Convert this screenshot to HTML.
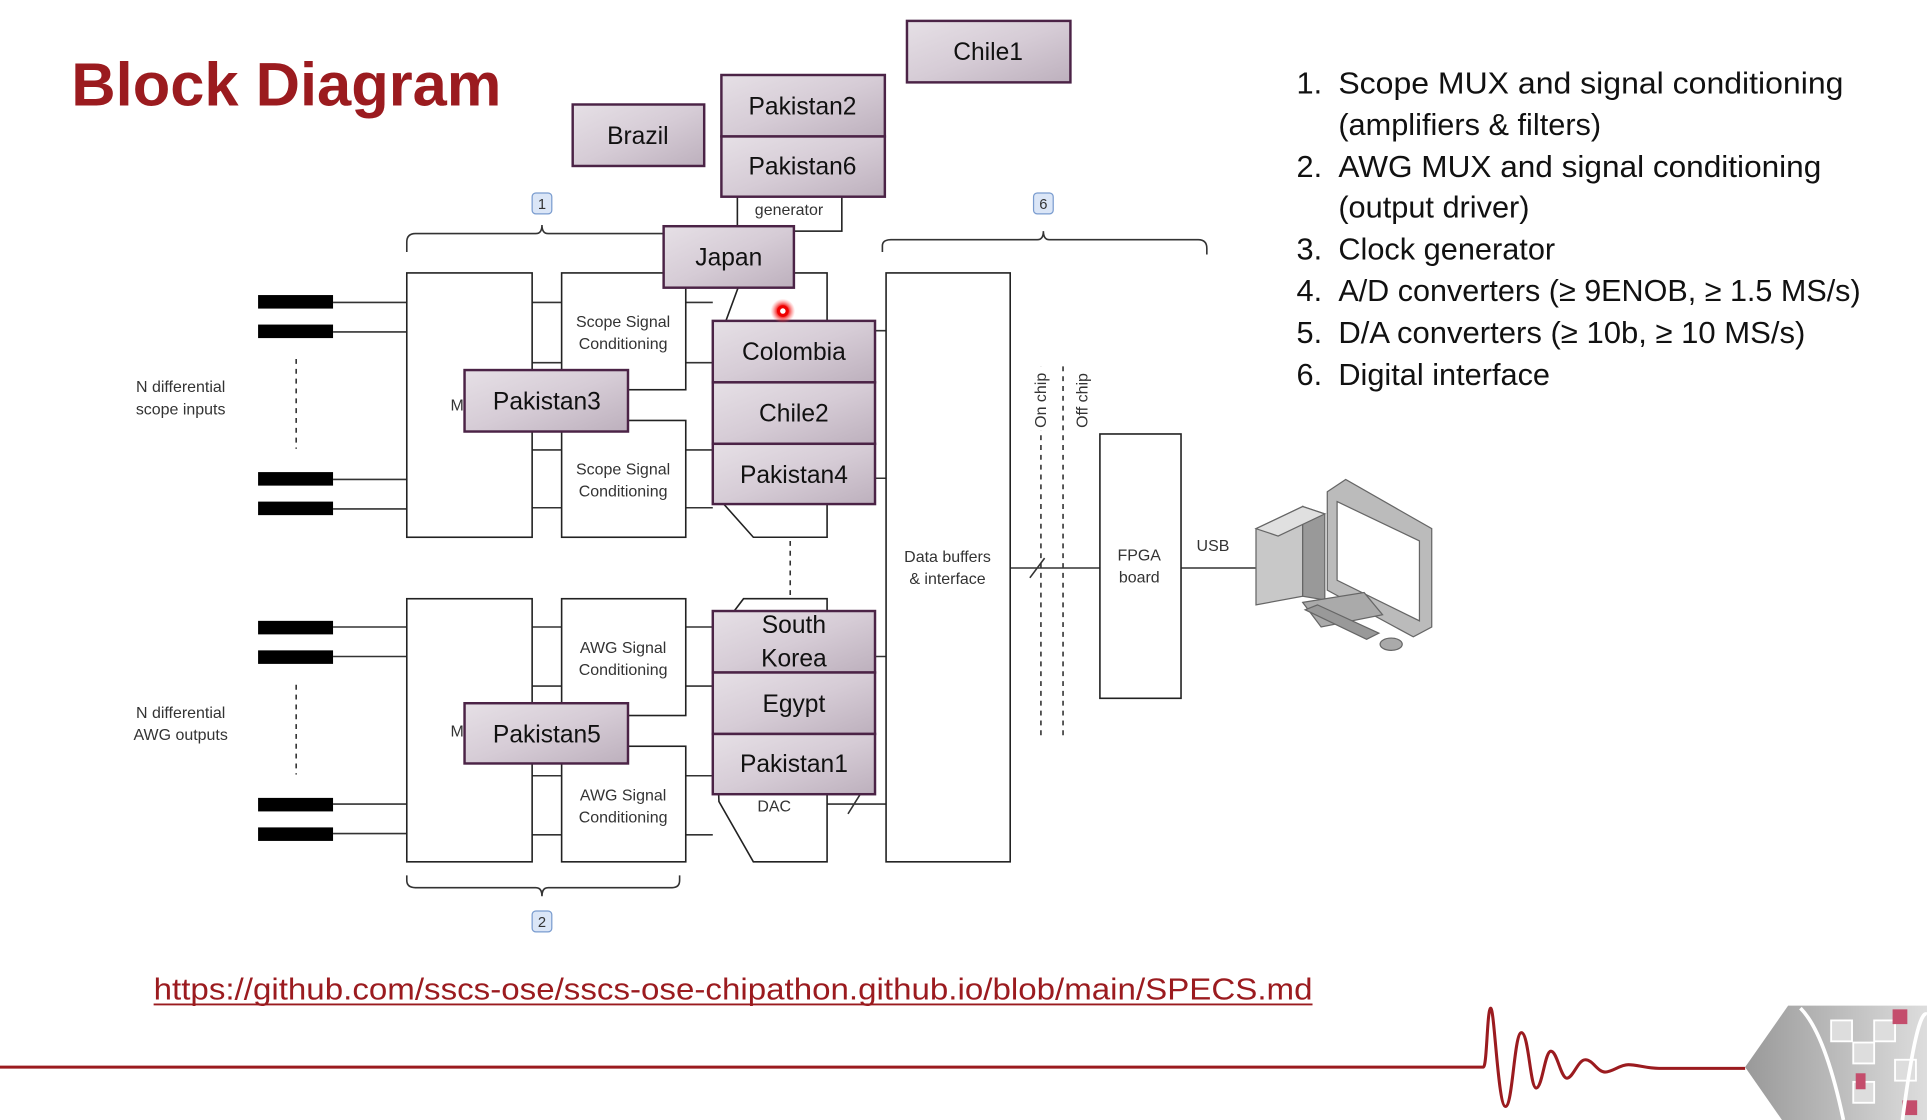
<!DOCTYPE html>
<html><head><meta charset="utf-8"><style>
html,body{margin:0;padding:0;background:#fff;}
svg{display:block;}
text{font-family:"Liberation Sans",sans-serif;}
.b{fill:#fff;stroke:#222;stroke-width:1.3;}
.l{stroke:#333;stroke-width:1.3;fill:none;}
.p{fill:url(#pg);stroke:#4b2346;stroke-width:2;}
.pt{font-size:20px;fill:#111;text-anchor:middle;}
.s{font-size:13px;fill:#333;text-anchor:middle;}
.li{font-size:25px;fill:#111;}
</style></head><body>
<svg width="1927" height="1120" viewBox="0 0 1568 911" preserveAspectRatio="none" xmlns="http://www.w3.org/2000/svg">
<defs>
<linearGradient id="pg" x1="0" y1="0" x2="1" y2="1"><stop offset="0" stop-color="#e6e0e6"/><stop offset="0.5" stop-color="#d6ccd6"/><stop offset="1" stop-color="#bdb0bd"/></linearGradient>
<linearGradient id="gg" x1="0" y1="0" x2="1" y2="0"><stop offset="0" stop-color="#999"/><stop offset="1" stop-color="#ddd"/></linearGradient>
<radialGradient id="rd"><stop offset="0.4" stop-color="#e00"/><stop offset="1" stop-color="#f66" stop-opacity="0"/></radialGradient>
</defs>
<text x="58" y="86" font-size="50" font-weight="bold" fill="#9b1b1f">Block Diagram</text>

<g fill="#000">
<rect x="210" y="240" width="61" height="11"/><rect x="210" y="264" width="61" height="11"/>
<rect x="210" y="384" width="61" height="11"/><rect x="210" y="408" width="61" height="11"/>
<rect x="210" y="505" width="61" height="11"/><rect x="210" y="529" width="61" height="11"/>
<rect x="210" y="649" width="61" height="11"/><rect x="210" y="673" width="61" height="11"/>
</g>
<g class="l">
<path d="M271 246H331M271 270H331M271 390H331M271 414H331M271 510H331M271 534H331M271 654H331M271 678H331"/>
<path d="M433 246H457M433 295H457M433 366H457M433 413H457M558 246H580M558 295H580M558 366H580M558 413H580"/>
<path d="M433 510H457M433 558H457M433 631H457M433 679H457M558 510H580M558 558H580M558 631H580M558 679H580"/>
<path d="M673 269H721M673 389H721M673 534H721M673 654H721M822 462H895M961 462H1022"/>
<path d="M838 470L850 454M690 662L700 646"/>
<path d="M241 292V365M241 557V630M643 440V492M847 298V600M865 298V600" stroke-dasharray="4,4"/>
<path d="M331 205V197Q331 190 338 190H436Q441 190 441 183Q441 190 446 190H540"/>
<path d="M718 205V200Q718 195 725 195H844Q849 195 849 188Q849 195 854 195H975Q982 195 982 202V207"/>
<path d="M331 712V716Q331 722 338 722H436Q441 722 441 729Q441 722 446 722H547Q553 722 553 716V712"/>
</g>
<rect x="433" y="157" width="16" height="17" rx="3" fill="#dbe6f7" stroke="#7a9ccf"/><text x="441" y="170" font-size="12" text-anchor="middle" fill="#333">1</text>
<rect x="841" y="157" width="16" height="17" rx="3" fill="#dbe6f7" stroke="#7a9ccf"/><text x="849" y="170" font-size="12" text-anchor="middle" fill="#333">6</text>
<rect x="433" y="741" width="16" height="17" rx="3" fill="#dbe6f7" stroke="#7a9ccf"/><text x="441" y="754" font-size="12" text-anchor="middle" fill="#333">2</text>

<text x="147" y="319" class="s">N differential</text><text x="147" y="337" class="s">scope inputs</text>
<text x="147" y="584" class="s">N differential</text><text x="147" y="602" class="s">AWG outputs</text>

<rect class="b" x="331" y="222" width="102" height="215"/>
<rect class="b" x="457" y="222" width="101" height="95"/>
<rect class="b" x="457" y="342" width="101" height="95"/>
<rect class="b" x="331" y="487" width="102" height="214"/>
<rect class="b" x="457" y="487" width="101" height="95"/>
<rect class="b" x="457" y="607" width="101" height="94"/>
<path class="b" d="M580 290L605 222H673V437H613L580 400Z"/>
<path class="b" d="M580 520L605 487H673V701H613L585 652Z"/>
<rect class="b" x="721" y="222" width="101" height="479"/>
<rect class="b" x="895" y="353" width="66" height="215"/>
<rect class="b" x="600" y="155" width="85" height="33"/>
<text x="642" y="175" class="s" font-size="14">generator</text>

<text x="507" y="266" class="s">Scope Signal</text><text x="507" y="284" class="s">Conditioning</text>
<text x="507" y="386" class="s">Scope Signal</text><text x="507" y="404" class="s">Conditioning</text>
<text x="507" y="531" class="s">AWG Signal</text><text x="507" y="549" class="s">Conditioning</text>
<text x="507" y="651" class="s">AWG Signal</text><text x="507" y="669" class="s">Conditioning</text>
<text x="630" y="660" class="s" font-size="14">DAC</text>
<text x="372" y="334" class="s">M</text><text x="372" y="599" class="s">M</text>
<text x="771" y="457" class="s">Data buffers</text><text x="771" y="475" class="s">&amp; interface</text>
<text x="927" y="456" class="s">FPGA</text><text x="927" y="474" class="s">board</text>
<text x="987" y="448" class="s" font-size="14">USB</text>
<rect x="838" y="298" width="16" height="52" fill="#fff"/>
<rect x="872" y="298" width="16" height="52" fill="#fff"/>
<text transform="translate(851,348) rotate(-90)" font-size="13" fill="#333">On chip</text>
<text transform="translate(885,348) rotate(-90)" font-size="13" fill="#333">Off chip</text>

<rect class="p" x="738" y="17" width="133" height="50"/><text class="pt" x="804" y="49">Chile1</text>
<rect class="p" x="587" y="61" width="133" height="50"/><text class="pt" x="653" y="93">Pakistan2</text>
<rect class="p" x="587" y="111" width="133" height="49"/><text class="pt" x="653" y="142">Pakistan6</text>
<rect class="p" x="466" y="85" width="107" height="50"/><text class="pt" x="519" y="117">Brazil</text>
<rect class="p" x="540" y="184" width="106" height="50"/><text class="pt" x="593" y="216">Japan</text>
<rect class="p" x="580" y="261" width="132" height="50"/><text class="pt" x="646" y="293">Colombia</text>
<rect class="p" x="580" y="311" width="132" height="50"/><text class="pt" x="646" y="343">Chile2</text>
<rect class="p" x="580" y="361" width="132" height="49"/><text class="pt" x="646" y="393">Pakistan4</text>
<rect class="p" x="378" y="301" width="133" height="50"/><text class="pt" x="445" y="333">Pakistan3</text>
<rect class="p" x="378" y="572" width="133" height="49"/><text class="pt" x="445" y="604">Pakistan5</text>
<rect class="p" x="580" y="497" width="132" height="50"/><text class="pt" x="646" y="515">South</text><text class="pt" x="646" y="542">Korea</text>
<rect class="p" x="580" y="547" width="132" height="50"/><text class="pt" x="646" y="579">Egypt</text>
<rect class="p" x="580" y="597" width="132" height="49"/><text class="pt" x="646" y="628">Pakistan1</text>
<circle cx="637" cy="253" r="10" fill="url(#rd)"/><circle cx="637" cy="253" r="3.5" fill="#fff" stroke="#e00" stroke-width="2.5"/>

<g stroke="#666" stroke-width="1">
<path d="M1022 430L1060 412V485L1022 492Z" fill="#c8c8c8"/>
<path d="M1060 412L1078 418V488L1060 485Z" fill="#999"/>
<path d="M1022 430L1060 412L1078 418L1040 436Z" fill="#e0e0e0"/>
<path d="M1080 400L1095 390L1165 430V510L1150 518L1080 480Z" fill="#bbb"/>
<path d="M1088 408L1155 440V505L1088 472Z" fill="#fff"/>
<path d="M1060 490L1110 482L1125 500L1075 510Z" fill="#aaa"/>
<path d="M1062 496L1112 520L1122 515L1072 492Z" fill="#999"/>
<ellipse cx="1132" cy="524" rx="9" ry="5" fill="#aaa"/>
</g>

<g class="li">
<text x="1055" y="76">1.</text><text x="1089" y="76" textLength="411" lengthAdjust="spacingAndGlyphs">Scope MUX and signal conditioning</text>
<text x="1089" y="110">(amplifiers &amp; filters)</text>
<text x="1055" y="144">2.</text><text x="1089" y="144" textLength="393" lengthAdjust="spacingAndGlyphs">AWG MUX and signal conditioning</text>
<text x="1089" y="177">(output driver)</text>
<text x="1055" y="211">3.</text><text x="1089" y="211">Clock generator</text>
<text x="1055" y="245">4.</text><text x="1089" y="245" textLength="425" lengthAdjust="spacingAndGlyphs">A/D converters (≥ 9ENOB, ≥ 1.5 MS/s)</text>
<text x="1055" y="279">5.</text><text x="1089" y="279" textLength="380" lengthAdjust="spacingAndGlyphs">D/A converters (≥ 10b, ≥ 10 MS/s)</text>
<text x="1055" y="313">6.</text><text x="1089" y="313">Digital interface</text>
</g>
<text x="125" y="813" font-size="25" fill="#9b1b1f" textLength="943" lengthAdjust="spacingAndGlyphs">https://github.com/sscs-ose/sscs-ose-chipathon.github.io/blob/main/SPECS.md</text>
<line x1="125" y1="817" x2="1068" y2="817" stroke="#9b1b1f" stroke-width="1.5"/>

<path d="M0 868H1207C1210 868 1210 820 1213 820S1219 900 1225 900S1232 840 1238 840S1245 885 1250 885S1257 855 1262 855S1270 877 1275 877S1284 862 1290 862S1300 872 1306 872S1318 866 1325 866S1340 869 1350 869H1420" fill="none" stroke="#9b1b1f" stroke-width="2.5"/>
<path d="M1420 868L1455 818H1568V911H1450Z" fill="url(#gg)"/>
<g fill="#ddd" stroke="#fff" stroke-width="1.5">
<rect x="1490" y="830" width="17" height="17"/><rect x="1508" y="848" width="17" height="17"/><rect x="1525" y="830" width="17" height="17"/>
<rect x="1508" y="880" width="17" height="17"/><rect x="1542" y="862" width="17" height="17"/>
</g>
<rect x="1510" y="873" width="8" height="13" fill="#c44d6c"/><rect x="1540" y="821" width="12" height="12" fill="#c44d6c"/><rect x="1548" y="895" width="12" height="12" fill="#c44d6c"/>
<path d="M1465 820Q1485 840 1500 911M1548 911Q1560 820 1568 825" stroke="#fff" stroke-width="3" fill="none"/>
</svg>
</body></html>
